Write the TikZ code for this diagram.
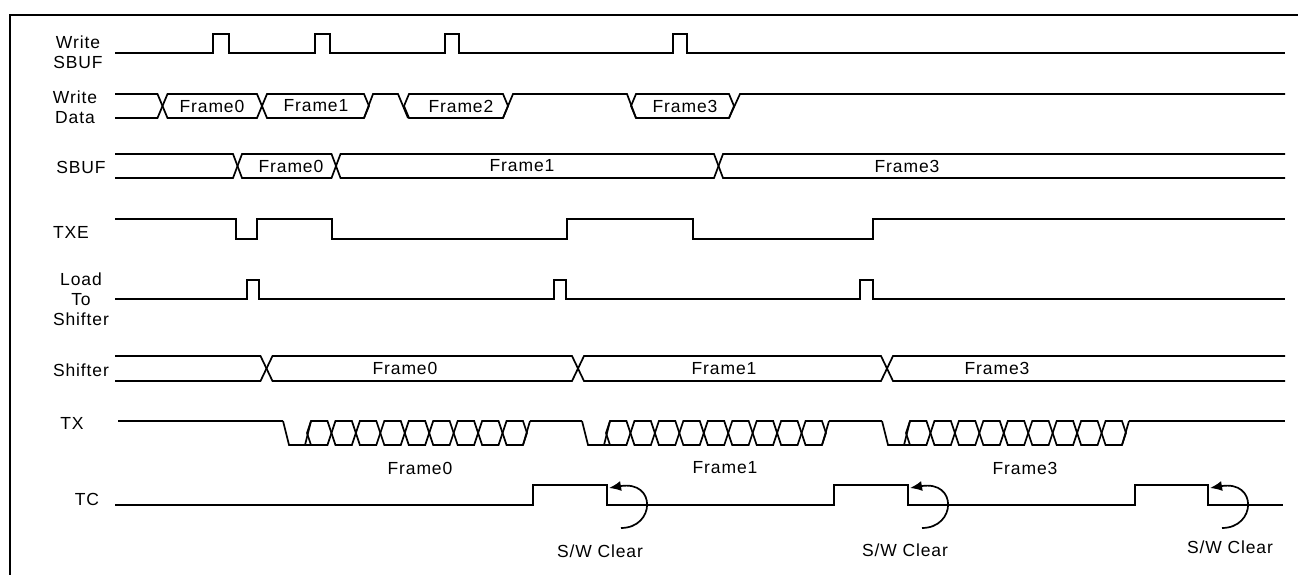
\documentclass[tikz,border=0pt]{standalone}
\usepackage{fontspec}
\setmainfont{Liberation Sans}[LetterSpace=5]
\usetikzlibrary{arrows.meta,calc}
\tikzset{
  wave/.style={line width=1.7pt, line join=miter},
  border/.style={line width=2pt},
  lbl/.style={font=\fontsize{17.5}{20}\selectfont, align=center, inner sep=0pt},
  arc/.style={line width=1.7pt, -{Latex[length=12pt,width=10pt]}}
}
\newcommand\hexb[5]{% x1 x2 ymid halfh tip
  \draw[wave] (#1,#3) -- ++(#5,-#4) -- ($(#2,#3)+(-#5,-#4)$) -- (#2,#3) -- ++(-#5,#4) -- ($(#1,#3)+(#5,#4)$) -- cycle;}
\begin{document}
\begin{tikzpicture}[x=1pt,y=-1pt]
\useasboundingbox (0,0) rectangle (1298,575);
\draw[border] (10,575) -- (10,15) -- (1298,15);

% left labels
\node[lbl] (lws) at (78,52.5) {Write\\SBUF};
\node[lbl] (lwd) at (75,107.5) {Write\\Data};
\node[lbl] (lsb) at (81,167) {SBUF};
\node[lbl] (ltx) at (71,232) {TXE};
\node[lbl] (lld) at (81,299) {Load\\To\\Shifter};
\node[lbl] (lsh) at (81,370) {Shifter};
\node[lbl] (ltxd) at (72,423) {TX};
\node[lbl] (ltc) at (87,499) {TC};

% Write SBUF
\draw[wave] (115,53) -- (213,53) -- (213,34) -- (229,34) -- (229,53) -- (315,53) -- (315,34) -- (330,34) -- (330,53)
  -- (445,53) -- (445,34) -- (459,34) -- (459,53) -- (673,53) -- (673,34) -- (687,34) -- (687,53) -- (1285,53);

% Write Data
\draw[wave] (115,94) -- (157.5,94) -- (162.5,106) -- (157.5,118) -- (115,118);
\hexb{162.5}{262}{106}{12}{5}
\hexb{262}{369}{106}{12}{5}
\draw[wave] (364,118) -- (373,94) -- (398,94) -- (408,118);
\hexb{404}{508}{106}{12}{5}
\draw[wave] (503,118) -- (513,94) -- (627,94) -- (636,118);
\hexb{631}{734}{106}{12}{5}
\draw[wave] (729,118) -- (740,94) -- (1285,94);
\node[lbl] (wd0) at (212,106) {Frame0};
\node[lbl] (wd1) at (316,106) {Frame1};
\node[lbl] (wd2) at (461,106) {Frame2};
\node[lbl] (wd3) at (685,106) {Frame3};

% SBUF
\draw[wave] (115,154) -- (233,154) -- (237.5,166) -- (233,178) -- (115,178);
\hexb{237.5}{336}{166}{12}{4.5}
\hexb{336}{718.5}{166}{12}{4.5}
\draw[wave] (1285,154) -- (723,154) -- (718.5,166) -- (723,178) -- (1285,178);
\node[lbl] (sb0) at (291,166) {Frame0};
\node[lbl] (sb1) at (522,166) {Frame1};
\node[lbl] (sb3) at (907,166) {Frame3};

% TXE
\draw[wave] (115,219) -- (236,219) -- (236,239) -- (257,239) -- (257,219) -- (332,219) -- (332,239) -- (567,239)
  -- (567,219) -- (693,219) -- (693,239) -- (873,239) -- (873,219) -- (1285,219);

% Load To Shifter
\draw[wave] (115,299) -- (247,299) -- (247,280) -- (259,280) -- (259,299) -- (554,299) -- (554,280) -- (566,280)
  -- (566,299) -- (860,299) -- (860,280) -- (873,280) -- (873,299) -- (1285,299);

% Shifter
\draw[wave] (115,356) -- (260.5,356) -- (266.5,368.5) -- (260.5,381) -- (115,381);
\hexb{266.5}{578}{368.5}{12.5}{6}
\hexb{578}{887}{368.5}{12.5}{6}
\draw[wave] (1285,356) -- (893,356) -- (887,368.5) -- (893,381) -- (1285,381);
\node[lbl] (sh0) at (405,368.5) {Frame0};
\node[lbl] (sh1) at (724,368.5) {Frame1};
\node[lbl] (sh3) at (997,368.5) {Frame3};

% TX
\foreach \o in {0,299,599}{
  \draw[wave] (283+\o,421) -- (289+\o,445) -- (311+\o,445);
  \draw[wave] (305+\o,445) -- (311+\o,421);
  \foreach \i in {0,...,8}{\hexb{307+\o+\i*24.444}{331.444+\o+\i*24.444}{433}{12}{4}}
  \draw[wave] (523+\o,445) -- (530+\o,421);
}
\draw[wave] (118,421) -- (283,421) (530,421) -- (582,421) (829,421) -- (882,421) (1129,421) -- (1285,421);
\node[lbl] (tx0) at (420,468) {Frame0};
\node[lbl] (tx1) at (725,468) {Frame1};
\node[lbl] (tx3) at (1025,468) {Frame3};

% TC
\draw[wave] (115,505) -- (533,505) -- (533,485) -- (607,485) -- (607,505) -- (834,505) -- (834,485) -- (908,485)
  -- (908,505) -- (1135,505) -- (1135,485) -- (1208,485) -- (1208,505) -- (1283,505);
\foreach \f in {607,908,1208}{
  \draw[arc] (\f+14,528) .. controls (\f+48,528) and (\f+50,480) .. (\f+2,488);
}
\node[lbl] (sw1) at (600,551) {S/W Clear};
\node[lbl] (sw2) at (905,550) {S/W Clear};
\node[lbl] (sw3) at (1230,547) {S/W Clear};
\end{tikzpicture}
\end{document}
